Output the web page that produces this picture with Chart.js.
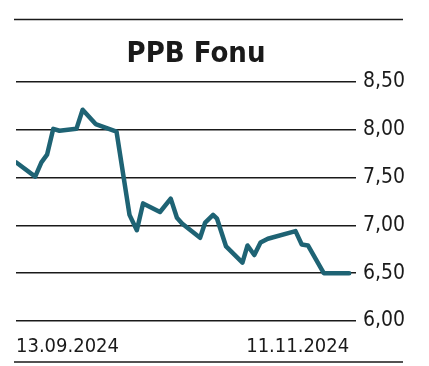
<!DOCTYPE html>
<html>
<head>
<meta charset="utf-8">
<script src="https://cdn.jsdelivr.net/npm/chart.js@4"></script>
<style>
  html, body { margin: 0; padding: 0; background: #ffffff; }
  #wrap { width: 429px; height: 366px; position: relative; }
</style>
</head>
<body>
<div id="wrap"><canvas id="fundChart" width="429" height="366"></canvas></div>
<script>
// Chart data
const chartTitle = 'PPB Fonu';
const startLabel = '13.09.2024';
const endLabel = '11.11.2024';
const totalDays = 59; // 13.09.2024 -> 11.11.2024

// calendar days since 13.09.2024
const dayOffsets = [0, 3.4, 4.5, 5.5, 6.6, 7.7, 10.7, 11.8, 14.1, 17.8, 20.1, 21.4, 22.5, 25.5, 27.4, 28.5,
    29.4, 32.6, 33.5, 34.9, 35.6, 37.2, 40.1, 41, 42.2, 43.3, 44.6, 49.5, 50.6, 51.7, 54.5, 59];
const prices = [7.66, 7.51, 7.66, 7.74, 8.01, 7.99, 8.01, 8.21, 8.06, 7.98, 7.11, 6.95, 7.23, 7.14, 7.28, 7.08,
    7.02, 6.87, 7.03, 7.11, 7.07, 6.78, 6.61, 6.79, 6.69, 6.82, 6.86, 6.94, 6.80, 6.79, 6.50, 6.50];

const yTicks = [6.0, 6.5, 7.0, 7.5, 8.0, 8.5];

const points = dayOffsets.map((d, i) => ({ x: d, y: prices[i] }));
const fontFamily = '"DejaVu Sans Condensed", "DejaVu Sans", sans-serif';

// Draws the title and the two horizontal rules above and below the chart
const framePlugin = {
    id: 'frame',
    afterDraw(chart) {
        const ctx = chart.ctx;
        ctx.save();
        ctx.strokeStyle = '#1a1a1a';
        ctx.lineWidth = 1.5;
        ctx.beginPath();
        ctx.moveTo(14, 19.5);
        ctx.lineTo(403, 19.5);
        ctx.moveTo(14, 362);
        ctx.lineTo(403, 362);
        ctx.stroke();

        ctx.fillStyle = '#1a1a1a';
        ctx.font = 'bold 29px ' + fontFamily;
        ctx.textAlign = 'center';
        ctx.textBaseline = 'alphabetic';
        ctx.fillText(chartTitle, 196, 62);
        ctx.restore();
    }
};

const ctx = document.getElementById('fundChart').getContext('2d');
new Chart(ctx, {
    type: 'line',
    data: {
        datasets: [{
            data: points,
            borderColor: '#1e6374',
            borderWidth: 4.5,
            pointRadius: 0,
            tension: 0,
            borderJoinStyle: 'round',
            borderCapStyle: 'round'
        }]
    },
    options: {
        responsive: false,
        animation: false,
        layout: {
            padding: { left: 16, right: 17, top: 82, bottom: 1 }
        },
        plugins: {
            legend: { display: false },
            tooltip: { enabled: false }
        },
        scales: {
            x: {
                type: 'linear',
                min: 0,
                max: totalDays + 1.2, // small gap on the right, as in the original
                grid: { display: false },
                border: { display: false },
                afterBuildTicks: (axis) => {
                    axis.ticks = [{ value: 0 }, { value: totalDays }];
                },
                ticks: {
                    align: 'inner',
                    maxRotation: 0,
                    padding: 6,
                    color: '#1a1a1a',
                    font: { family: fontFamily, size: 20 },
                    callback: (value) => value === 0 ? startLabel : endLabel
                }
            },
            y: {
                position: 'right',
                min: 6,
                max: 8.5,
                afterBuildTicks: (axis) => {
                    axis.ticks = yTicks.map(v => ({ value: v }));
                },
                grid: {
                    color: '#1a1a1a',
                    lineWidth: 1.5,
                    drawTicks: false
                },
                border: { display: false },
                ticks: {
                    padding: 7,
                    color: '#1a1a1a',
                    font: { family: fontFamily, size: 21 },
                    callback: (value) => value.toFixed(2).replace('.', ',')
                }
            }
        }
    },
    plugins: [framePlugin]
});
</script>
</body>
</html>
